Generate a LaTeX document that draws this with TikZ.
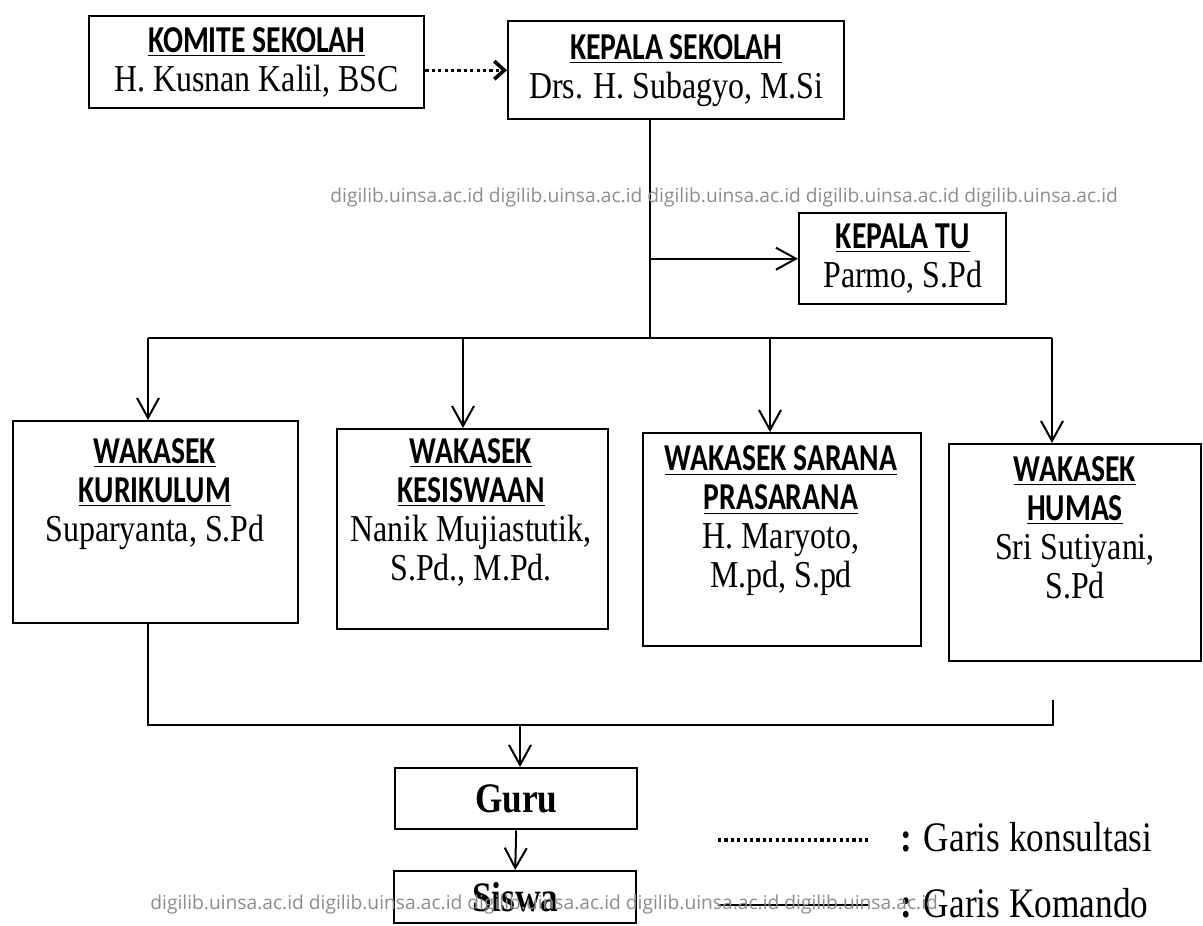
\documentclass[tikz,border=0pt]{standalone}
\usepackage{fontspec}
\setmainfont{Liberation Serif}[FakeStretch=0.84]
\setsansfont{Carlito}[FakeStretch=0.78]
\newfontfamily\wmfont{Open Sans}
\usetikzlibrary{arrows.meta}
\definecolor{wmgray}{RGB}{140,140,140}
\newcommand{\judul}[1]{{\sffamily\bfseries\underline{#1}}}

\begin{document}
\begin{tikzpicture}[x=0.5pt,y=-0.5pt,
  kotak/.style 2 args={draw,line width=1.2pt,minimum width=#1*0.5pt,minimum height=#2*0.5pt,anchor=north west,inner sep=0pt},
  isi/.style={align=center,inner sep=0pt,font=\fontsize{19}{19.5}\selectfont},
  panah/.style={line width=1pt,-{Straight Barb[length=10pt,width=11pt]}},
  garis/.style={line width=1pt},
  titik/.style={line width=1.6pt,dash pattern=on 1.6pt off 1.6pt},
  wm/.style={anchor=west,inner sep=0pt,text=wmgray,font=\wmfont\fontsize{9.6}{11}\selectfont}]
  \useasboundingbox (0,0) rectangle (1203,925);

  % atas
  \node[kotak={335}{92},isi] (komite) at (88,15) {\judul{KOMITE SEKOLAH}\\H. Kusnan Kalil, BSC};
  \node[kotak={336}{98},isi] (kepsek) at (507,20) {\judul{KEPALA SEKOLAH}\\Drs. H. Subagyo, M.Si};
  \node[kotak={207}{91},isi] (ketu) at (798,212) {\judul{KEPALA TU}\\Parmo, S.Pd};

  % wakasek
  \node[kotak={285}{202}] (wk1) at (12,420) {};
  \node[kotak={271}{200}] (wk2) at (336,428) {};
  \node[kotak={278}{213}] (wk3) at (642,432) {};
  \node[kotak={252}{217}] (wk4) at (948,443) {};
  \node[isi] (wk1t) at (155,494) {\judul{WAKASEK}\\\judul{KURIKULUM}\\Suparyanta, S.Pd};
  \node[isi] (wk2t) at (471,512) {\judul{WAKASEK}\\\judul{KESISWAAN}\\Nanik Mujiastutik,\\S.Pd., M.Pd.};
  \node[isi] (wk3t) at (781,521) {\judul{WAKASEK SARANA}\\\judul{PRASARANA}\\H. Maryoto,\\M.pd, S.pd};
  \node[isi] (wk4t) at (1075,528) {\judul{WAKASEK}\\\judul{HUMAS}\\Sri Sutiyani,\\S.Pd};

  \node[kotak={242}{61},isi,font=\fontsize{21}{22}\selectfont\bfseries] (guru) at (394,767) {Guru};
  \node[kotak={242}{52},isi,font=\fontsize{21}{22}\selectfont\bfseries] (siswa) at (393,870) {Siswa};

  % garis
  \coordinate (tA) at (650,338);
  \coordinate (b1) at (148,338);
  \coordinate (b2) at (463,338);
  \coordinate (b3) at (770,338);
  \coordinate (b4) at (1052,338);
  \coordinate (c1) at (148,725);
  \coordinate (c4) at (1053,725);
  \coordinate (c4a) at (1053,700);
  \coordinate (cm) at (520,725);

  \draw[titik,-{Straight Barb[length=5pt,width=9pt,line width=1.8pt]}] (komite.east |- kepsek.west) -- (kepsek.west);
  \draw[garis] (kepsek.south -| tA) -- (tA);
  \draw[panah] (ketu.west -| tA) -- (ketu.west);
  \draw[garis] (b1) -- (b4);
  \draw[panah] (b1) -- (b1 |- wk1.north);
  \draw[panah] (b2) -- (b2 |- wk2.north);
  \draw[panah] (b3) -- (b3 |- wk3.north);
  \draw[panah] (b4) -- (b4 |- wk4.north);
  \draw[garis] (b1 |- wk1.south) -- (c1) -- (c4) -- (c4a);
  \draw[panah] (cm) -- (cm |- guru.north);
  \draw[panah] (guru.south) -- (siswa.north);

  % keterangan
  \coordinate (k1a) at (718,840);
  \coordinate (k1b) at (868,840);
  \coordinate (k2a) at (718,905);
  \coordinate (k2b) at (868,905);
  \draw[titik] (k1a) -- (k1b);
  \draw[garis] (k2a) -- (k2b);
  \node[isi,anchor=west,font=\fontsize{21}{22}\selectfont] (lk1) at (900,837) {\textbf{:} Garis konsultasi};
  \node[isi,anchor=west,font=\fontsize{21}{22}\selectfont] (lk2) at (900,903) {\textbf{:} Garis Komando};

  % watermark
  \node[wm] (wm1) at (330,198) {digilib.uinsa.ac.id digilib.uinsa.ac.id digilib.uinsa.ac.id digilib.uinsa.ac.id digilib.uinsa.ac.id};
  \node[wm] (wm2) at (150,905) {digilib.uinsa.ac.id digilib.uinsa.ac.id digilib.uinsa.ac.id digilib.uinsa.ac.id digilib.uinsa.ac.id};
\end{tikzpicture}
\end{document}
